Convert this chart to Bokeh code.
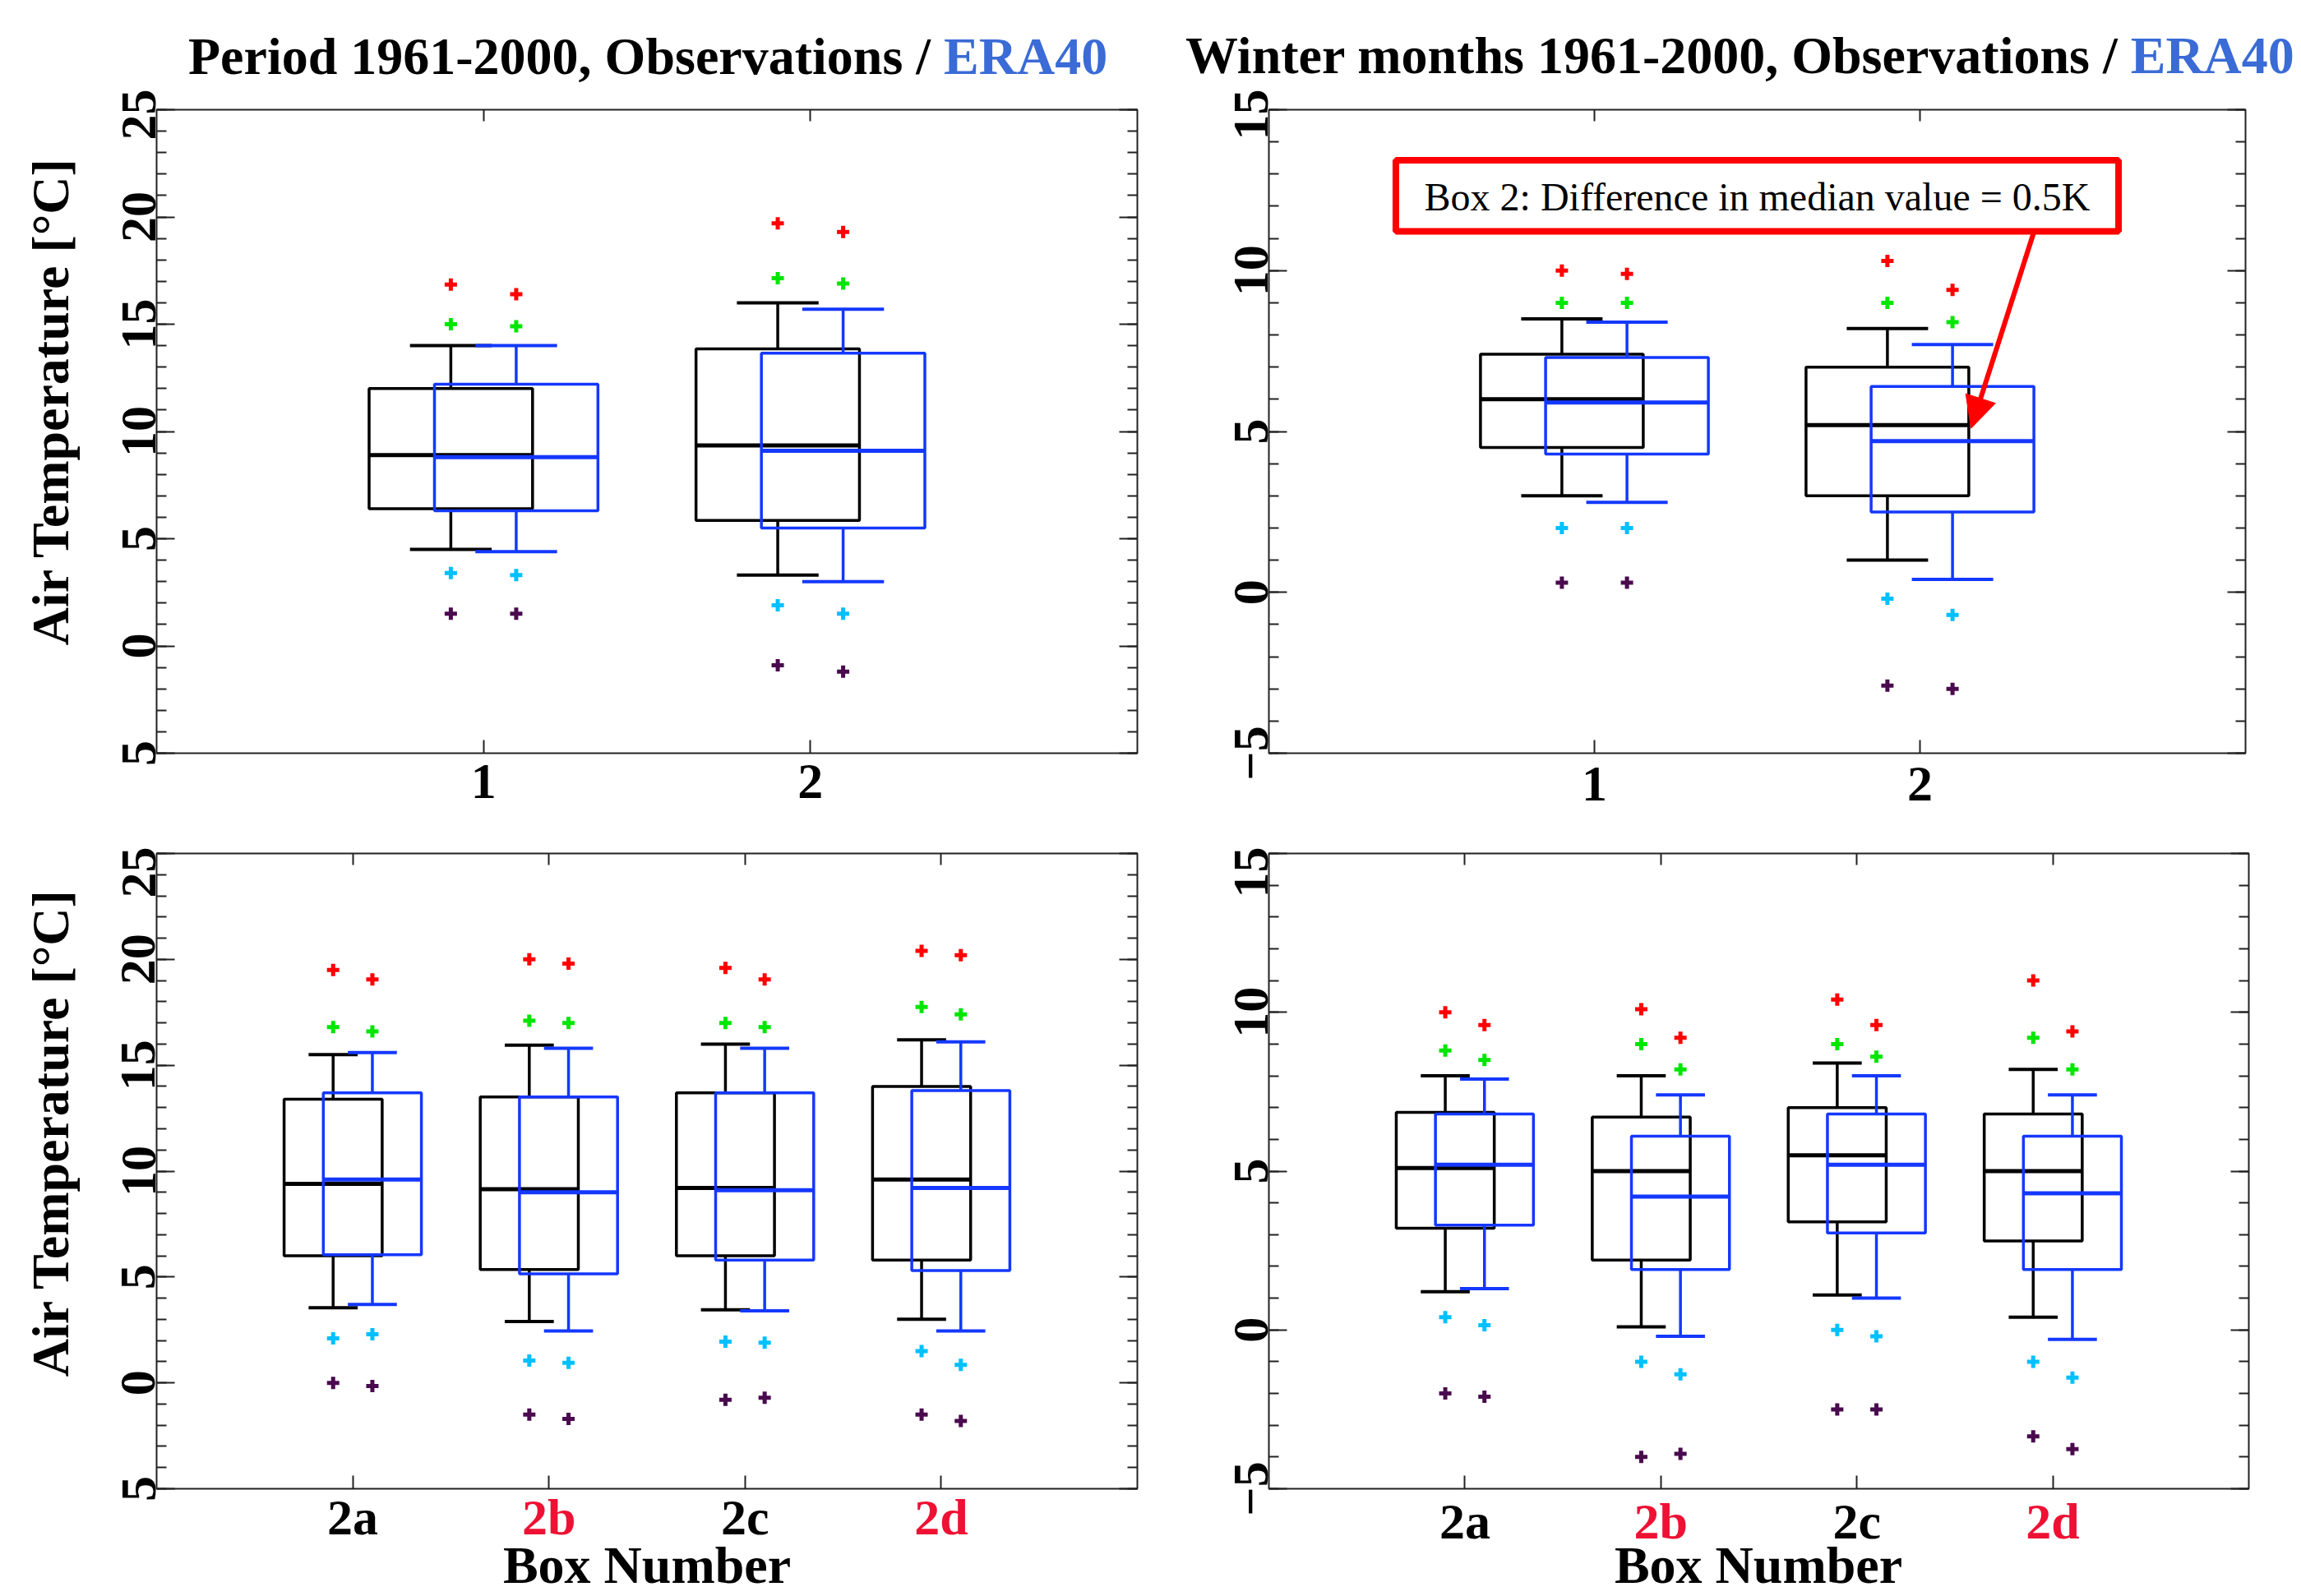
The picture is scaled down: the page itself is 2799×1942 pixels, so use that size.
import math
from bokeh.plotting import figure
from bokeh.models import (Range1d, FixedTicker, SingleIntervalTicker, LinearAxis, Label,
                          BoxAnnotation, Arrow, NormalHead, Div, CustomJSTickFormatter)
from bokeh.layouts import row, column
from bokeh.embed import file_html
from bokeh.resources import INLINE

# ---------------------------------------------------------------- data
TL_CATS = ["1", "2"]
TL_OBS_WLO = [4.5, 3.3]
TL_OBS_Q1 = [6.4, 5.85]
TL_OBS_MED = [8.9, 9.35]
TL_OBS_Q3 = [12.0, 13.85]
TL_OBS_WHI = [14.0, 16.0]
TL_OBS_RED = [16.85, 19.7]
TL_OBS_GREEN = [15.0, 17.15]
TL_OBS_CYAN = [3.4, 1.9]
TL_OBS_PURPLE = [1.5, -0.9]
TL_ERA_WLO = [4.4, 3.0]
TL_ERA_Q1 = [6.3, 5.5]
TL_ERA_MED = [8.8, 9.1]
TL_ERA_Q3 = [12.2, 13.65]
TL_ERA_WHI = [14.0, 15.7]
TL_ERA_RED = [16.4, 19.3]
TL_ERA_GREEN = [14.9, 16.9]
TL_ERA_CYAN = [3.3, 1.5]
TL_ERA_PURPLE = [1.5, -1.2]

TR_CATS = ["1", "2"]
TR_OBS_WLO = [3.0, 1.0]
TR_OBS_Q1 = [4.5, 3.0]
TR_OBS_MED = [6.0, 5.2]
TR_OBS_Q3 = [7.4, 7.0]
TR_OBS_WHI = [8.5, 8.2]
TR_OBS_RED = [10.0, 10.3]
TR_OBS_GREEN = [9.0, 9.0]
TR_OBS_CYAN = [2.0, -0.2]
TR_OBS_PURPLE = [0.3, -2.9]
TR_ERA_WLO = [2.8, 0.4]
TR_ERA_Q1 = [4.3, 2.5]
TR_ERA_MED = [5.9, 4.7]
TR_ERA_Q3 = [7.3, 6.4]
TR_ERA_WHI = [8.4, 7.7]
TR_ERA_RED = [9.9, 9.4]
TR_ERA_GREEN = [9.0, 8.4]
TR_ERA_CYAN = [2.0, -0.7]
TR_ERA_PURPLE = [0.3, -3.0]

BL_CATS = ["2a", "2b", "2c", "2d"]
BL_OBS_WLO = [3.55, 2.9, 3.45, 3.0]
BL_OBS_Q1 = [6.0, 5.35, 6.0, 5.8]
BL_OBS_MED = [9.4, 9.15, 9.2, 9.6]
BL_OBS_Q3 = [13.4, 13.5, 13.7, 14.0]
BL_OBS_WHI = [15.5, 15.95, 16.0, 16.2]
BL_OBS_RED = [19.5, 20.0, 19.6, 20.4]
BL_OBS_GREEN = [16.8, 17.1, 17.0, 17.75]
BL_OBS_CYAN = [2.1, 1.05, 1.95, 1.5]
BL_OBS_PURPLE = [0.0, -1.5, -0.8, -1.5]
BL_ERA_WLO = [3.7, 2.45, 3.4, 2.45]
BL_ERA_Q1 = [6.05, 5.15, 5.8, 5.3]
BL_ERA_MED = [9.6, 9.0, 9.1, 9.2]
BL_ERA_Q3 = [13.7, 13.5, 13.7, 13.8]
BL_ERA_WHI = [15.6, 15.8, 15.8, 16.1]
BL_ERA_RED = [19.05, 19.8, 19.05, 20.2]
BL_ERA_GREEN = [16.6, 17.0, 16.8, 17.4]
BL_ERA_CYAN = [2.3, 0.95, 1.9, 0.85]
BL_ERA_PURPLE = [-0.15, -1.7, -0.7, -1.8]

BR_CATS = ["2a", "2b", "2c", "2d"]
BR_OBS_WLO = [1.2, 0.1, 1.1, 0.4]
BR_OBS_Q1 = [3.2, 2.2, 3.4, 2.8]
BR_OBS_MED = [5.1, 5.0, 5.5, 5.0]
BR_OBS_Q3 = [6.85, 6.7, 7.0, 6.8]
BR_OBS_WHI = [8.0, 8.0, 8.4, 8.2]
BR_OBS_RED = [10.0, 10.1, 10.4, 11.0]
BR_OBS_GREEN = [8.8, 9.0, 9.0, 9.2]
BR_OBS_CYAN = [0.4, -1.0, 0.0, -1.0]
BR_OBS_PURPLE = [-2.0, -4.0, -2.5, -3.35]
BR_ERA_WLO = [1.3, -0.2, 1.0, -0.3]
BR_ERA_Q1 = [3.3, 1.9, 3.05, 1.9]
BR_ERA_MED = [5.2, 4.2, 5.2, 4.3]
BR_ERA_Q3 = [6.8, 6.1, 6.8, 6.1]
BR_ERA_WHI = [7.9, 7.4, 8.0, 7.4]
BR_ERA_RED = [9.6, 9.2, 9.6, 9.4]
BR_ERA_GREEN = [8.5, 8.2, 8.6, 8.2]
BR_ERA_CYAN = [0.15, -1.4, -0.2, -1.5]
BR_ERA_PURPLE = [-2.1, -3.9, -2.5, -3.75]

RED_CATS = ["2b", "2d"]          # category labels printed in red

# ---------------------------------------------------------------- style
FONT = "Liberation Serif"
OBS_COLOR = "#000000"
ERA_COLOR = "#1438ff"
TITLE_BLUE = "#3a6bd6"
LABEL_RED = "#ee1133"
DOT_COLORS = ["#ff0000", "#00e600", "#00c0ff", "#4a0a4e"]
AX_COLOR = "#222222"
BOX_W = 0.5
CAP_W = 0.25
OFFSET = 0.1
RED_STANDOFF = -71   # pulls the red label axis back onto the black label row


def series(wlo, q1, med, q3, whi, red, green, cyan, purple):
    return dict(wlo=wlo, q1=q1, med=med, q3=q3, whi=whi, dots=[red, green, cyan, purple])


def draw_series(p, n, s, shift, color):
    xs = [i + 1 + shift for i in range(n)]
    left = [x - BOX_W / 2 for x in xs]
    right = [x + BOX_W / 2 for x in xs]
    cl = [x - CAP_W / 2 for x in xs]
    cr = [x + CAP_W / 2 for x in xs]
    p.segment(x0=xs, y0=s["q3"], x1=xs, y1=s["whi"], line_color=color, line_width=3.5)
    p.segment(x0=xs, y0=s["q1"], x1=xs, y1=s["wlo"], line_color=color, line_width=3.5)
    p.segment(x0=cl, y0=s["whi"], x1=cr, y1=s["whi"], line_color=color, line_width=4)
    p.segment(x0=cl, y0=s["wlo"], x1=cr, y1=s["wlo"], line_color=color, line_width=4)
    p.quad(left=left, right=right, bottom=s["q1"], top=s["q3"], fill_color=None,
           line_color=color, line_width=3.5)
    p.segment(x0=left, y0=s["med"], x1=right, y1=s["med"], line_color=color, line_width=5)
    for vals, c in zip(s["dots"], DOT_COLORS):
        p.scatter(x=xs, y=vals, marker="cross", size=15, line_width=5, line_color=c)


def tick_style(ax, tin, minor_in=0):
    ax.major_tick_in = tin
    ax.major_tick_out = 0
    ax.minor_tick_in = minor_in
    ax.minor_tick_out = 0
    ax.major_tick_line_width = 2
    ax.minor_tick_line_width = 2
    ax.major_tick_line_color = AX_COLOR
    ax.minor_tick_line_color = AX_COLOR
    ax.axis_line_color = None


def hide_labels(ax):
    ax.formatter = CustomJSTickFormatter(code="return ''")
    ax.major_label_standoff = 0
    ax.major_label_text_font_size = "1px"


def make_panel(width, height, bl, br, bt, bb, cats, obs, era, ymin, ymax, left_panel,
               s1, ylabel_dy=None):
    n = len(cats)
    ticks = list(range(1, n + 1))
    p = figure(width=width, height=height, x_range=Range1d(0, n + 1),
               y_range=Range1d(ymin, ymax), output_backend="svg", toolbar_location=None,
               tools="", title=None, min_border_left=bl, min_border_right=br,
               min_border_top=bt, min_border_bottom=bb)
    p.grid.visible = False
    p.outline_line_color = AX_COLOR
    p.outline_line_width = 2
    p.background_fill_color = "white"
    p.border_fill_color = "white"
    yl = p.left[0]
    xb = p.below[0]

    # left y axis with rotated labels
    yl.ticker = SingleIntervalTicker(interval=5, num_minor_ticks=5)
    tick_style(yl, 22, 12)
    yl.major_label_orientation = "vertical"
    yl.major_label_text_font = FONT
    yl.major_label_text_font_style = "bold"
    yl.major_label_text_font_size = "62px"
    yl.major_label_text_color = "black"
    yl.major_label_standoff = 2
    if left_panel:
        yl.major_label_overrides = {-5: "5"}
    # right y axis: ticks only
    yr = LinearAxis(ticker=SingleIntervalTicker(interval=5, num_minor_ticks=5))
    tick_style(yr, 22, 12)
    hide_labels(yr)
    p.add_layout(yr, "right")
    # top x axis: ticks only
    xt = LinearAxis(ticker=FixedTicker(ticks=ticks, minor_ticks=[]))
    tick_style(xt, 14)
    hide_labels(xt)
    p.add_layout(xt, "above")

    # bottom x axis: ticks + black category labels
    red_idx = [i for i, c in enumerate(cats) if c in RED_CATS]
    xb.ticker = FixedTicker(ticks=ticks, minor_ticks=[])
    tick_style(xb, 16)
    xb.major_label_overrides = {i + 1: ("" if i in red_idx else c) for i, c in enumerate(cats)}
    xb.major_label_text_font = FONT
    xb.major_label_text_font_style = "bold"
    xb.major_label_text_font_size = "62px"
    xb.major_label_text_color = "black"
    xb.major_label_standoff = s1
    # second bottom axis pulled back onto the first one: red category labels
    if red_idx:
        xr = LinearAxis(ticker=FixedTicker(ticks=ticks, minor_ticks=[]))
        tick_style(xr, 0)
        xr.major_tick_line_color = None
        xr.major_label_overrides = {i + 1: (c if i in red_idx else "") for i, c in enumerate(cats)}
        xr.major_label_text_font = FONT
        xr.major_label_text_font_style = "bold"
        xr.major_label_text_font_size = "62px"
        xr.major_label_text_color = LABEL_RED
        xr.major_label_standoff = RED_STANDOFF
        p.add_layout(xr, "below")

    draw_series(p, n, obs, -OFFSET, OBS_COLOR)
    draw_series(p, n, era, OFFSET, ERA_COLOR)

    if ylabel_dy is not None:
        p.add_layout(Label(x=0, y=(ymin + ymax) / 2, x_offset=-129, y_offset=ylabel_dy,
                           angle=math.pi / 2, text="Air Temperature [°C]",
                           text_align="center", text_baseline="alphabetic",
                           text_font=FONT, text_font_style="bold", text_font_size="64px",
                           text_color="black"), "left")
    return p


def text_css(line_height):
    return ("position:absolute;white-space:nowrap;font-family:'Liberation Serif';"
            "font-weight:bold;font-size:64px;line-height:%dpx;color:#000000;" % line_height)


def title_div(width, height, left, top, black_text):
    html = ('<div style="position:relative;width:%dpx;height:%dpx;">'
            '<span style="%sleft:%dpx;top:%dpx;">%s<span style="color:%s;">ERA40</span>'
            '</span></div>' % (width, height, text_css(64), left, top, black_text, TITLE_BLUE))
    return Div(text=html, width=width, height=height, margin=0)


def xlabel_div(width, height, center, top, text):
    html = ('<div style="position:relative;width:%dpx;height:%dpx;">'
            '<span style="%sleft:%dpx;top:%dpx;transform:translateX(-50%%);">%s</span></div>'
            % (width, height, text_css(50), center, top, text))
    return Div(text=html, width=width, height=height, margin=0)


tl_obs = series(TL_OBS_WLO, TL_OBS_Q1, TL_OBS_MED, TL_OBS_Q3, TL_OBS_WHI,
                TL_OBS_RED, TL_OBS_GREEN, TL_OBS_CYAN, TL_OBS_PURPLE)
tl_era = series(TL_ERA_WLO, TL_ERA_Q1, TL_ERA_MED, TL_ERA_Q3, TL_ERA_WHI,
                TL_ERA_RED, TL_ERA_GREEN, TL_ERA_CYAN, TL_ERA_PURPLE)
tr_obs = series(TR_OBS_WLO, TR_OBS_Q1, TR_OBS_MED, TR_OBS_Q3, TR_OBS_WHI,
                TR_OBS_RED, TR_OBS_GREEN, TR_OBS_CYAN, TR_OBS_PURPLE)
tr_era = series(TR_ERA_WLO, TR_ERA_Q1, TR_ERA_MED, TR_ERA_Q3, TR_ERA_WHI,
                TR_ERA_RED, TR_ERA_GREEN, TR_ERA_CYAN, TR_ERA_PURPLE)
bl_obs = series(BL_OBS_WLO, BL_OBS_Q1, BL_OBS_MED, BL_OBS_Q3, BL_OBS_WHI,
                BL_OBS_RED, BL_OBS_GREEN, BL_OBS_CYAN, BL_OBS_PURPLE)
bl_era = series(BL_ERA_WLO, BL_ERA_Q1, BL_ERA_MED, BL_ERA_Q3, BL_ERA_WHI,
                BL_ERA_RED, BL_ERA_GREEN, BL_ERA_CYAN, BL_ERA_PURPLE)
br_obs = series(BR_OBS_WLO, BR_OBS_Q1, BR_OBS_MED, BR_OBS_Q3, BR_OBS_WHI,
                BR_OBS_RED, BR_OBS_GREEN, BR_OBS_CYAN, BR_OBS_PURPLE)
br_era = series(BR_ERA_WLO, BR_ERA_Q1, BR_ERA_MED, BR_ERA_Q3, BR_ERA_WHI,
                BR_ERA_RED, BR_ERA_GREEN, BR_ERA_CYAN, BR_ERA_PURPLE)

# page geometry (page origin at the top-left corner)
W_LEFT, W_RIGHT = 1423, 1368
d_tl = title_div(W_LEFT, 108, 229, 37, "Period 1961-2000, Observations / ")
d_tr = title_div(W_RIGHT, 108, 19, 36, "Winter months 1961-2000, Observations / ")

p_tl = make_panel(W_LEFT, 922, 190, 40, 25, 104, TL_CATS, tl_obs, tl_era, -5, 25, True, 14,
                  ylabel_dy=37)
p_tr = make_panel(W_RIGHT, 922, 120, 60, 21, 114, TR_CATS, tr_obs, tr_era, -5, 15, False, 17)
p_bl = make_panel(W_LEFT, 880, 190, 40, 6, 97, BL_CATS, bl_obs, bl_era, -5, 25, True, 0,
                  ylabel_dy=47)
p_br = make_panel(W_RIGHT, 880, 120, 56, 8, 99, BR_CATS, br_obs, br_era, -5, 15, False, 5)

d_bl = xlabel_div(W_LEFT, 32, 787, -30, "Box Number")
d_br = xlabel_div(W_RIGHT, 32, 716, -30, "Box Number")

p_tr.add_layout(BoxAnnotation(left=0.39, right=2.61, bottom=11.22, top=13.43,
                              fill_color="white", fill_alpha=1.0, line_color="#ff0000",
                              line_width=8, line_alpha=1.0))
p_tr.add_layout(Label(x=1.5, y=12.3, text="Box 2: Difference in median value = 0.5K",
                      text_align="center", text_baseline="middle", text_font=FONT,
                      text_font_size="48px", text_color="black"))
p_tr.add_layout(Arrow(x_start=2.35, y_start=11.2, x_end=2.157, y_end=5.1,
                      line_color="#ff0000", line_width=6,
                      end=NormalHead(size=38, fill_color="#ff0000", line_color="#ff0000")))

layout = column(row(d_tl, d_tr), row(p_tl, p_tr), row(p_bl, p_br), row(d_bl, d_br))
open("out.html", "w").write(file_html(layout, INLINE))
